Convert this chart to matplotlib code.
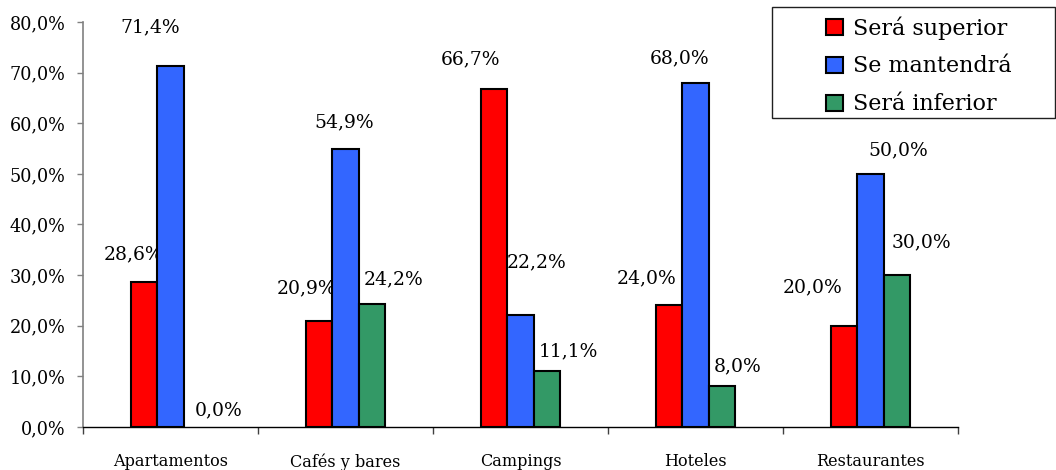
import matplotlib
matplotlib.use("Agg")
import matplotlib.pyplot as plt
from matplotlib.patches import Patch, Rectangle
from matplotlib.ticker import FuncFormatter, FixedLocator
import numpy as np

plt.rcParams['font.family'] = ['DejaVu Serif']

categories = ['Apartamentos', 'Cafés y bares', 'Campings', 'Hoteles', 'Restaurantes']
series_names = ['Será superior', 'Se mantendrá', 'Será inferior']
superior = [28.6, 20.9, 66.7, 24.0, 20.0]
mantendra = [71.4, 54.9, 22.2, 68.0, 50.0]
inferior = [0.0, 24.2, 11.1, 8.0, 30.0]
colors = ['#FF0000', '#3366FF', '#339966']

# label offsets (pixels) from the top centre of each bar, as Excel placed them
label_offsets = [
    [(-10, 28), (-12, 33), (-23, 30), (-22, 27), (-31, 38)],
    [(-20, 38), (-1, 27), (16, 52), (-16, 24), (28, 24)],
    [(22, 17), (21, 25), (21, 19), (16, 20), (24, 33)],
]

fig = plt.figure(figsize=(10.56, 4.70), dpi=100)
ax = fig.add_axes([0.0786, 0.0915, 0.8286, 0.8617])

x = np.arange(len(categories))
w = 0.152
for i, vals in enumerate([superior, mantendra, inferior]):
    pos = x + (i - 1) * w
    lws = [1.5 if v > 0 else 0 for v in vals]
    ax.bar(pos, vals, w, color=colors[i], edgecolor='black', linewidth=lws, zorder=3)
    for j, v in enumerate(vals):
        dx, dy = label_offsets[i][j]
        ax.annotate(f"{v:.1f}%".replace('.', ','), (pos[j], v),
                    xytext=(dx, dy), textcoords='offset pixels',
                    ha='center', va='center', fontsize=13.5)

ax.set_xlim(-0.5, len(categories) - 0.5)
ax.set_ylim(0, 80)
ax.set_yticks(np.arange(0, 81, 10))
ax.yaxis.set_major_formatter(FuncFormatter(lambda v, p: f"{v:.1f}%".replace('.', ',')))
ax.tick_params(axis='y', labelsize=12.7, length=4.5, width=1, color='#808080', pad=8)

ax.set_xticks(x)
ax.set_xticklabels(categories)
ax.xaxis.set_minor_locator(FixedLocator(np.arange(-0.5, len(categories), 1.0)))
ax.tick_params(axis='x', which='major', length=0, labelsize=11.6, pad=19)
ax.tick_params(axis='x', which='minor', length=5, width=1, color='#404040')

ax.spines['top'].set_visible(False)
ax.spines['right'].set_visible(False)
ax.spines['left'].set_color('#808080')
ax.spines['left'].set_linewidth(1.2)
ax.spines['bottom'].set_color('black')
ax.spines['bottom'].set_linewidth(1)

handles = [Patch(facecolor=c, edgecolor='black', linewidth=1.5) for c in colors]
leg = fig.legend(handles, series_names, loc='upper left',
                 bbox_to_anchor=(826 / 1056, 1 - 16 / 470),
                 frameon=False, prop={'family': 'DejaVu Serif', 'size': 16},
                 handlelength=0.75, handleheight=0.75,
                 handletextpad=0.45, labelspacing=0.72, borderpad=0, borderaxespad=0)
fig.patches.append(Rectangle((772 / 1056, 1 - 118 / 470), 283 / 1056, 111 / 470,
                             transform=fig.transFigure, fill=False,
                             edgecolor='#202020', linewidth=1))

fig.savefig('out.png', dpi=100)
